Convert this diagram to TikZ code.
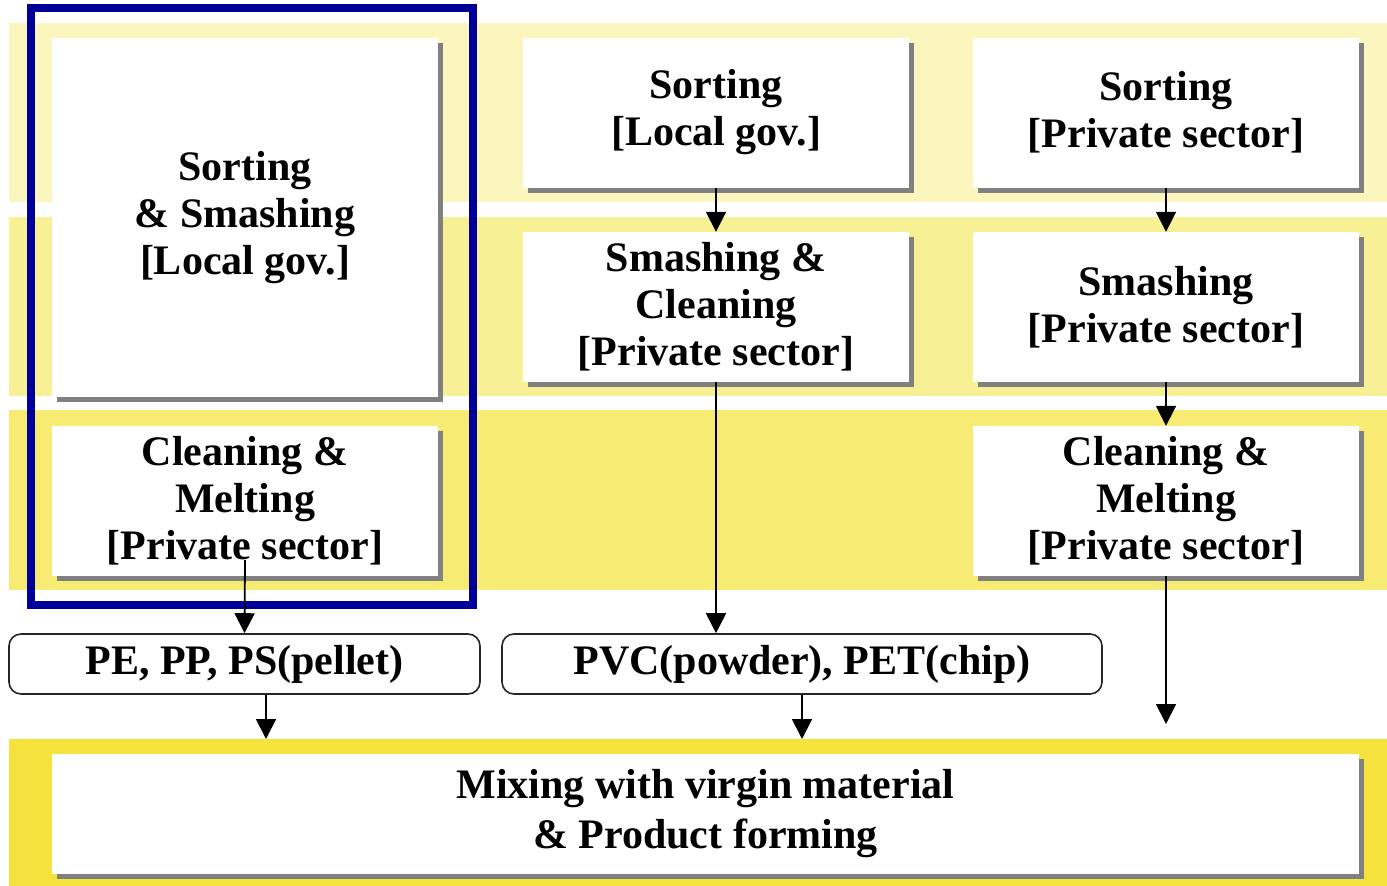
\documentclass[tikz,border=0pt]{standalone}
\usepackage{fontspec}
\setmainfont{Liberation Serif}
\usetikzlibrary{arrows.meta, positioning, calc, shadows}
\definecolor{bandone}{RGB}{251, 246, 190}
\definecolor{bandtwo}{RGB}{248, 240, 148}
\definecolor{bandthree}{RGB}{247, 235, 115}
\definecolor{bandfour}{RGB}{245, 226, 60}
\definecolor{frameblue}{RGB}{0, 0, 153}
\definecolor{shadegray}{RGB}{128, 128, 128}
\tikzset{
  stepbox/.style={rectangle, fill=white, inner sep=0pt, align=center,
                  minimum width=386pt, minimum height=#1,
                  drop shadow={shadow xshift=5pt, shadow yshift=-5pt, fill=shadegray, opacity=1},
                  font=\fontsize{42}{47}\selectfont\bfseries},
  stepbox/.default=150pt,
  prodbox/.style={rectangle, rounded corners=12pt, draw=black!85, line width=1.6pt,
                  fill=white, inner sep=0pt, minimum width=#1, minimum height=60pt,
                  font=\fontsize{42}{47}\selectfont\bfseries},
  flow/.style={-{Triangle[length=20pt, width=20pt]}, line width=1.8pt, color=black},
}
\begin{document}
\begin{tikzpicture}[x=1pt, y=-1pt]
  \useasboundingbox (0,0) rectangle (1387,886);

  % stage bands
  \fill[bandone]   (9,23)  rectangle (1387,202);
  \fill[bandtwo]   (9,217) rectangle (1387,396);
  \fill[bandthree] (9,410) rectangle (1387,590);
  \fill[bandfour]  (9,739) rectangle (1387,886);

  \draw[frameblue, line width=8pt] (31,8) rectangle (473,605);

  % left column
  \node[stepbox=359pt] (sortsmash) at (245,217.5) {Sorting\\ \& Smashing\\ {[}Local gov.]};
  \node[stepbox] (cleanmeltL) at (245,501) {Cleaning \&\\ Melting\\ {[}Private sector]};

  % middle column
  \node[stepbox] (sortM) at (716,112.5) {Sorting\\ {[}Local gov.]};
  \node[stepbox] (smashcleanM) at (716,307) {Smashing \&\\ Cleaning\\ {[}Private sector]};

  % right column
  \node[stepbox] (sortR) at (1166,112.5) {Sorting\\ {[}Private sector]};
  \node[stepbox] (smashR) at (1166,307) {Smashing\\ {[}Private sector]};
  \node[stepbox] (cleanmeltR) at (1166,501) {Cleaning \&\\ Melting\\ {[}Private sector]};

  % products
  \node[prodbox=471pt] (pellet) at (244.5,664) {PE, PP, PS(pellet)};
  \node[prodbox=600pt] (powder) at (802,664) {PVC(powder), PET(chip)};

  \node[stepbox=120pt, minimum width=1307pt, font=\fontsize{42}{50}\selectfont\bfseries]
       (mixing) at (705.5,814) {Mixing with virgin material\\ \& Product forming};

  \coordinate (bandtop) at (0,739);
  \coordinate (endR) at (1166,724);

  \draw[flow] ([yshift=16pt]cleanmeltL.south) -- (pellet.north);
  \draw[flow] ([xshift=21.5pt]pellet.south) -- ([xshift=21.5pt]pellet.south |- bandtop);
  \draw[flow] (sortM) -- (smashcleanM);
  \draw[flow] (smashcleanM.south) -- (smashcleanM.south |- powder.north);
  \draw[flow] (powder.south) -- (powder.south |- bandtop);
  \draw[flow] (sortR) -- (smashR);
  \draw[flow] (smashR) -- (cleanmeltR);
  \draw[flow] (cleanmeltR.south) -- (endR);
\end{tikzpicture}
\end{document}
